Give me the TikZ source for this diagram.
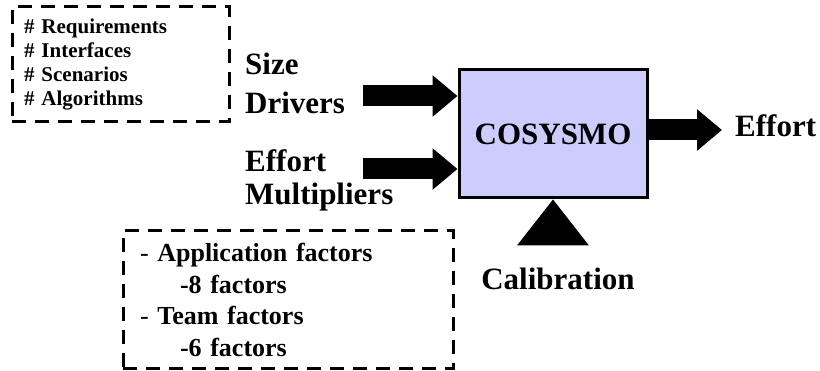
\documentclass[tikz,border=0pt]{standalone}
\usepackage{fontspec}
\setmainfont{Liberation Serif}
\usetikzlibrary{arrows.meta,positioning}
\definecolor{boxfill}{RGB}{204,204,255}

\begin{document}
\begin{tikzpicture}[x=1pt, y=-1pt,
  fatarrow/.style={-{Triangle[length=25pt,width=40pt]}, line width=21pt},
  dashbox/.style={draw, line width=3pt, dash pattern=on 14pt off 9pt, align=left},
  lbl/.style={font=\fontsize{31}{36}\selectfont\bfseries, inner sep=0pt, align=left}]
  \useasboundingbox (0,0) rectangle (820,371);

  \node[draw, line width=3pt, fill=boxfill, minimum width=188pt, minimum height=128pt,
    font=\fontsize{31}{36}\selectfont\bfseries] (cosysmo) at (553,134) {COSYSMO};

  \node[lbl, anchor=north west] (size) at (245,53) {Size\\[3pt]Drivers};
  \node[lbl, anchor=north west] (effm) at (245,149) {Effort\\[-3pt]Multipliers};
  \node[lbl, anchor=west] (effort) at (735,126) {Effort};
  \node[lbl] (calib) at (558,279) {Calibration};

  \node[dashbox, minimum width=217pt, minimum height=115pt, text width=193pt, inner xsep=12pt,
    font=\fontsize{21}{24}\selectfont\bfseries] (drivers) at (120.5,64.5)
    {\# Requirements\\ \# Interfaces\\ \# Scenarios\\ \# Algorithms};
  \node[dashbox, minimum width=330pt, minimum height=138pt, text width=296pt, inner xsep=17pt,
    font=\fontsize{26}{31.5}\selectfont\bfseries] (mults) at (288,300)
    {{\mdseries -} Application factors\\ \hspace*{40pt}-8 factors\\
     {\mdseries -} Team factors\\ \hspace*{40pt}-6 factors};

  % inputs and output
  \coordinate (sizein) at (363,96);
  \coordinate (effin) at (363,169);
  \coordinate (effout) at (722,130);
  \draw[fatarrow] (sizein) -- (sizein -| cosysmo.west);
  \draw[fatarrow] (effin) -- (effin -| cosysmo.west);
  \draw[fatarrow] (cosysmo.east |- effout) -- (effout);

  % calibration wedge
  \fill (cosysmo.south) -- ++(36,46) -- ++(-72,0) -- cycle;
\end{tikzpicture}
\end{document}
